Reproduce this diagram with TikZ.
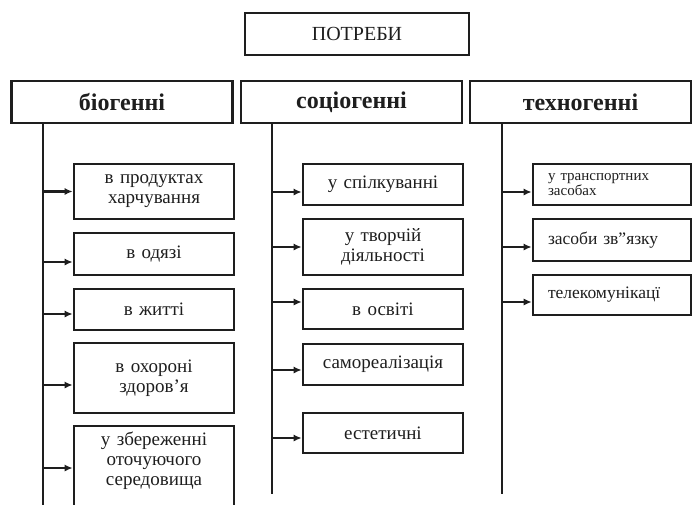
\documentclass[tikz,border=0pt]{standalone}
\usepackage{fontspec}
\setmainfont{Liberation Serif}
\usetikzlibrary{arrows.meta,positioning}
\definecolor{Ink}{RGB}{30,30,30}

\begin{document}
\begin{tikzpicture}[
      x=1pt,y=-1pt,
      topNode/.style={draw=Ink,line width=2.6pt,minimum width=224pt,minimum height=42pt,
                      font=\fontsize{20}{22}\selectfont,text=Ink},
      headNode/.style={draw=Ink,line width=2.6pt,minimum width=221pt,minimum height=42pt,
                       font=\fontsize{24}{26}\selectfont\bfseries,text=Ink},
      subNode/.style={draw=Ink,line width=2.6pt,minimum width=160pt,text width=150pt,inner xsep=5pt,
                      align=center,font=\fontsize{19}{20}\selectfont,text=Ink},
      techNode/.style={draw=Ink,line width=2.6pt,minimum width=158pt,text width=128pt,inner xsep=15pt,
                       align=left,font=\fontsize{17.5}{18}\selectfont,text=Ink},
      trunk/.style={line width=2.6pt,color=Ink},
      ar/.style={-{Latex[length=8pt,width=7pt]},line width=2.1pt,color=Ink}
    ]
    \useasboundingbox (0,0) rectangle (692,504);
    \clip (0,0) rectangle (692,504);

    % Top and the three groups
    \node(top)[topNode] at (357,34) {ПОТРЕБИ};
    \node(h1)[headNode] at (122,102) {біогенні};
    \node(h2)[headNode] at (351.5,102) {соціогенні};
    \node(h3)[headNode] at (580.5,102) {техногенні};

    % Column 1: biogenic
    \node(b1)[subNode,minimum height=55pt] at (154,191.5) {в продуктах\\харчування};
    \node(b2)[subNode,minimum height=42pt] at (154,254) {в одязі};
    \node(b3)[subNode,minimum height=41pt] at (154,309.5) {в житті};
    \node(b4)[subNode,minimum height=70pt] at (154,378) {в охороні\\здоров’я};
    \node(b5)[subNode,minimum height=84pt] at (154,468) {у збереженні\\оточуючого\\середовища\\[-2pt]\mbox{}};

    % Column 2: sociogenic
    \node(s1)[subNode,minimum height=41pt] at (383,184.5) {у спілкуванні};
    \node(s2)[subNode,minimum height=56pt] at (383,247) {у творчій\\діяльності};
    \node(s3)[subNode,minimum height=40pt] at (383,309) {в освіті};
    \node(s4)[subNode,minimum height=41pt] at (383,364.5) {самореалізація};
    \node(s5)[subNode,minimum height=40pt] at (383,433) {естетичні};

    % Column 3: technogenic
    \node(t1)[techNode,minimum height=41pt,font=\fontsize{15}{15}\selectfont] at (612,184.5) {у транспортних\\засобах};
    \node(t2)[techNode,minimum height=42pt] at (612,240) {засоби зв”язку};
    \node(t3)[techNode,minimum height=40pt] at (612,295) {телекомунікацї};

    % Trunk lines under the groups
    \coordinate(bEnd) at (43,510);
    \coordinate(sEnd) at (272,494);
    \coordinate(tEnd) at (502,494);
    \draw[trunk] (h1.south -| bEnd) -- (bEnd);
    \draw[trunk] (h2.south -| sEnd) -- (sEnd);
    \draw[trunk] (h3.south -| tEnd) -- (tEnd);

    % Arrows, column 1
    \draw[ar] (b1.west -| bEnd) -- (b1.west);
    \draw[ar] ([yshift=-8pt]b2.west -| bEnd) -- ([yshift=-8pt]b2.west);
    \draw[ar] ([yshift=-4.5pt]b3.west -| bEnd) -- ([yshift=-4.5pt]b3.west);
    \draw[ar] ([yshift=-7pt]b4.west -| bEnd) -- ([yshift=-7pt]b4.west);
    \draw[ar] (b5.west -| bEnd) -- (b5.west);

    % Arrows, column 2
    \draw[ar] ([yshift=-7.5pt]s1.west -| sEnd) -- ([yshift=-7.5pt]s1.west);
    \draw[ar] (s2.west -| sEnd) -- (s2.west);
    \draw[ar,line width=1.4pt] ([yshift=7pt]s3.west -| sEnd) -- ([yshift=7pt]s3.west);
    \draw[ar] ([yshift=-5.5pt]s4.west -| sEnd) -- ([yshift=-5.5pt]s4.west);
    \draw[ar] ([yshift=-5pt]s5.west -| sEnd) -- ([yshift=-5pt]s5.west);

    % Arrows, column 3
    \draw[ar] ([yshift=-7.5pt]t1.west -| tEnd) -- ([yshift=-7.5pt]t1.west);
    \draw[ar] ([yshift=-7pt]t2.west -| tEnd) -- ([yshift=-7pt]t2.west);
    \draw[ar,line width=1.4pt] ([yshift=-7pt]t3.west -| tEnd) -- ([yshift=-7pt]t3.west);
  \end{tikzpicture}
\end{document}
